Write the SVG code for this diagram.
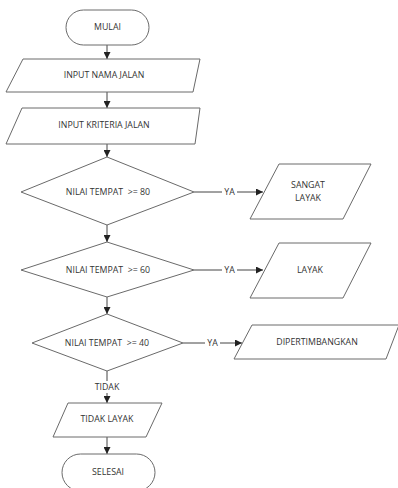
<svg xmlns="http://www.w3.org/2000/svg" width="398" height="488" viewBox="0 0 398 488">
<style>
.s{fill:#fff;stroke:#6a6a6a;stroke-width:1}
.t{font-family:"Open Sans","Liberation Sans",sans-serif;font-size:8.8px;fill:#333;text-anchor:middle;dominant-baseline:middle}
.c{stroke:#444;stroke-width:1;fill:none;marker-end:url(#a)}
.l{stroke:#444;stroke-width:1;fill:none}
</style>
<defs>
<marker id="a" viewBox="0 0 7 7" refX="7" refY="3.5" markerWidth="7" markerHeight="7" markerUnits="userSpaceOnUse" orient="auto">
<path d="M0,0 L7,3.5 L0,7 z" fill="#222"/>
</marker>
</defs>
<rect width="398" height="488" fill="#fff"/>
<g id="connectors">
<path class="c" d="M107,45 V59"/>
<path class="c" d="M107,92 V108"/>
<path class="c" d="M107,144 V157"/>
<path class="c" d="M107,225 V242"/>
<path class="c" d="M107,297 V314"/>
<path class="l" d="M107,371 V381"/>
<path class="c" d="M107,393 V403"/>
<path class="c" d="M107,437 V454"/>
<path class="l" d="M194,192 H222"/>
<path class="c" d="M237,192 H263"/>
<path class="l" d="M194,270 H222"/>
<path class="c" d="M237,270 H263"/>
<path class="l" d="M183,343 H205"/>
<path class="c" d="M220,343 H242"/>
<text class="t" x="229.5" y="192.5">YA</text>
<text class="t" x="229.5" y="270.5">YA</text>
<text class="t" x="212.5" y="343.5">YA</text>
<text class="t" x="107" y="387.5">TIDAK</text>
</g>
<g id="mulai">
<rect class="s" x="66" y="10" width="83" height="35" rx="17.5"/>
<text class="t" x="107.5" y="28">MULAI</text>
</g>
<g id="input-nama">
<path class="s" d="M23,59 H200 L193,92 H6 Z"/>
<text class="t" x="104" y="76">INPUT NAMA JALAN</text>
</g>
<g id="input-kriteria">
<path class="s" d="M22,108 H200 L195,144 H6 Z"/>
<text class="t" x="104" y="126">INPUT KRITERIA JALAN</text>
</g>
<g id="d80">
<path class="s" d="M107,157 L194,192 L107,225 L21,192 Z"/>
<text class="t" x="108" y="192.5">NILAI TEMPAT &#160;&gt;= 80</text>
</g>
<g id="sangat-layak">
<path class="s" d="M279,164 H371 L343,219 H250 Z"/>
<text class="t" x="308" y="186">SANGAT</text>
<text class="t" x="308" y="199">LAYAK</text>
</g>
<g id="d60">
<path class="s" d="M107,242 L194,270 L107,297 L21,270 Z"/>
<text class="t" x="108" y="270.5">NILAI TEMPAT &#160;&gt;= 60</text>
</g>
<g id="layak">
<path class="s" d="M279,243 H371 L343,298 H250 Z"/>
<text class="t" x="310" y="270.5">LAYAK</text>
</g>
<g id="d40">
<path class="s" d="M107,314 L183,343 L107,371 L32,343 Z"/>
<text class="t" x="107" y="343.5">NILAI TEMPAT &#160;&gt;= 40</text>
</g>
<g id="dipertimbangkan">
<path class="s" d="M252,325 H399 L386,359 H234 Z"/>
<text class="t" x="317" y="343">DIPERTIMBANGKAN</text>
</g>
<g id="tidak-layak">
<path class="s" d="M68,403 H162 L146,437 H53 Z"/>
<text class="t" x="107" y="420">TIDAK LAYAK</text>
</g>
<g id="selesai">
<rect class="s" x="62" y="454" width="93" height="37" rx="18.5"/>
<text class="t" x="108" y="473">SELESAI</text>
</g>
</svg>
